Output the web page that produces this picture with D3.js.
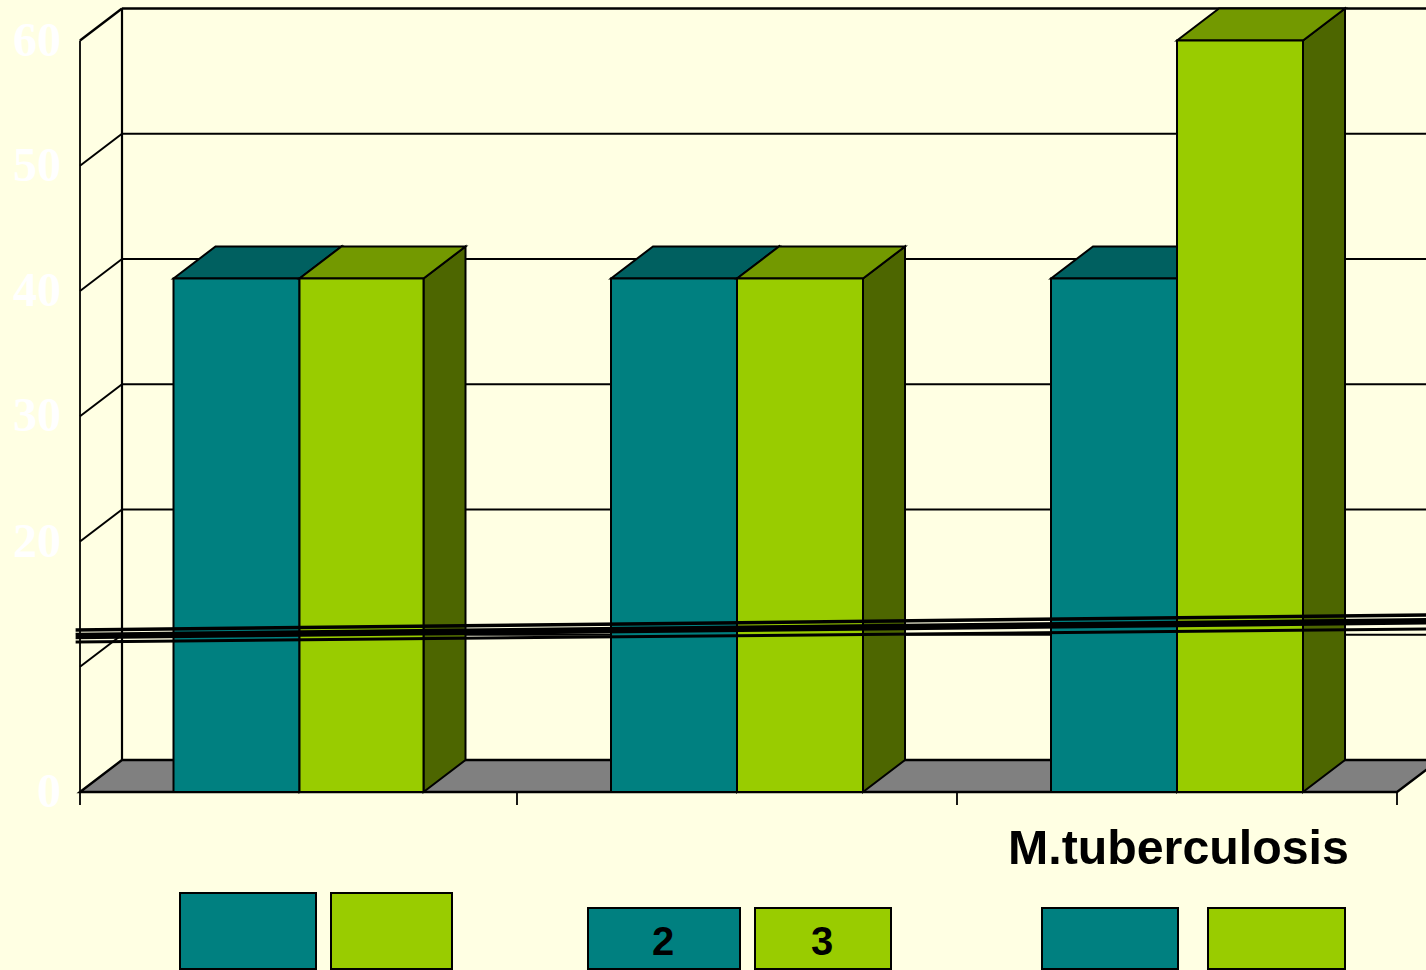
<!DOCTYPE html>
<html><head><meta charset="utf-8">
<script src="https://cdn.jsdelivr.net/npm/d3@7/dist/d3.min.js"></script>
<style>html,body{margin:0;padding:0;background:#FFFFE3;overflow:hidden}svg{display:block}</style>
</head><body><div id="chart"></div>
<script>
const categories = ["A","B","C"];
const seriesNames = ["2","3"];
const seriesA = [41, 41, 41];
const seriesB = [41, 41, 60];
const yTicks = [0,10,20,30,40,50,60];
const yTickLabels = ["0","","20","30","40","50","60"];
const xTitle = "M.tuberculosis";
const legendLabels = [["",""],["2","3"],["",""]];
// nearly horizontal overlay rules: [category position, value]
const overlayLines = [
  {w:3.5, pts:[[-0.01,12.93],[3.07,14.13]]},
  {w:6.5, pts:[[-0.01,12.45],[3.07,13.63]]},
  {w:3, pts:[[-0.01,11.98],[3.07,13.01]]}
];
const colors = {bg:"#FFFFE3", teal:"#008080", tealTop:"#006060", tealSide:"#004D4D",
  lime:"#99CC00", limeTop:"#739900", limeSide:"#4D6600", floor:"#808080", tick:"#FFFFFF"};

const W=1426,H=970;
const depth={x:42,y:-32};
const y=d3.scaleLinear().domain([0,60]).range([792,40.5]);
const bandEdges=[80,517,957,1397];
const x0=d3.scaleOrdinal().domain(categories).range([79.5,517,957]);
const barW=126;
const limeW=[124,126,126];
const groupOffset=94;
const xLine=d3.scaleLinear().domain([0,3]).range([80,1397]);

const svg=d3.select("#chart").append("svg").attr("width",W).attr("height",H).attr("viewBox",`0 0 ${W} ${H}`);
svg.append("rect").attr("width",W).attr("height",H).attr("fill",colors.bg);

const xL=bandEdges[0],xR=bandEdges[3];
const poly=(pts,fill,sw=2)=>svg.append("polygon").attr("points",pts.map(p=>p.join(",")).join(" "))
  .attr("fill",fill).attr("stroke","#000").attr("stroke-width",sw).attr("stroke-linejoin","miter");
const line=(a,b,sw=2)=>svg.append("line").attr("x1",a[0]).attr("y1",a[1]).attr("x2",b[0]).attr("y2",b[1])
  .attr("stroke","#000").attr("stroke-width",sw);

// floor
poly([[xL,y(0)],[xL+depth.x,y(0)+depth.y],[xR+depth.x,y(0)+depth.y],[xR,y(0)]],colors.floor,2.4);
// walls + gridlines
line([xL,y(0)],[xL,y(60)],1.8);
line([xL+depth.x,y(0)+depth.y],[xL+depth.x,y(60)+depth.y],2.2);
yTicks.forEach(t=>{
  if(t>0){
    line([xL,y(t)],[xL+depth.x,y(t)+depth.y],t===60?2.4:2);
    line([xL+depth.x,y(t)+depth.y],[W+10,y(t)+depth.y],t===60?2.4:2);
  }
});
// axis baseline and ticks
line([xL,y(0)],[xR,y(0)],2.2);
bandEdges.forEach(px=>line([px,y(0)],[px,y(0)+13],1.8));

// y labels
svg.append("g").selectAll("text").data(yTicks).join("text")
  .attr("x",61).attr("y",d=>y(d)+15)
  .attr("text-anchor","end")
  .attr("font-family","Liberation Serif").attr("font-weight","bold").attr("font-size",48)
  .attr("fill",colors.tick)
  .text((d,i)=>yTickLabels[i]);

// bars
function drawBar(bx,w,v,face,top,side){
  const yt=y(v), yb=y(0);
  poly([[bx+w,yb],[bx+w+depth.x,yb+depth.y],[bx+w+depth.x,yt+depth.y],[bx+w,yt]],side);
  poly([[bx,yt],[bx+depth.x,yt+depth.y],[bx+w+depth.x,yt+depth.y],[bx+w,yt]],top);
  svg.append("rect").attr("x",bx).attr("y",yt).attr("width",w).attr("height",yb-yt)
    .attr("fill",face).attr("stroke","#000").attr("stroke-width",2);
}
categories.forEach((c,i)=>{
  const gx=x0(c)+groupOffset;
  drawBar(gx,barW,seriesA[i],colors.teal,colors.tealTop,colors.tealSide);
  drawBar(gx+barW,limeW[i],seriesB[i],colors.lime,colors.limeTop,colors.limeSide);
});

// overlay rules
const ln=d3.line().x(d=>xLine(d[0])).y(d=>y(d[1]));
svg.append("g").selectAll("path").data(overlayLines).join("path")
  .attr("d",d=>ln(d.pts)).attr("fill","none").attr("stroke","#000").attr("stroke-width",d=>d.w);

// x title
svg.append("text").attr("x",1008).attr("y",864)
  .attr("font-family","Liberation Sans").attr("font-weight","bold").attr("font-size",48.3)
  .attr("fill","#000").text(xTitle);

// label boxes under the chart
const boxLayout=[
  {y:893,boxes:[[180,316],[331,452]]},
  {y:908,boxes:[[588,740],[755,891]]},
  {y:908,boxes:[[1042,1178],[1208,1345]]}
];
legendLabels.forEach((labels,gi)=>{
  const L=boxLayout[gi];
  L.boxes.forEach((b,bi)=>{
    svg.append("rect").attr("x",b[0]).attr("y",L.y).attr("width",b[1]-b[0]).attr("height",969-L.y)
      .attr("fill",bi===0?colors.teal:colors.lime).attr("stroke","#000").attr("stroke-width",2);
    if(labels[bi]) svg.append("text").attr("x",bi===0?663:822).attr("y",955)
      .attr("text-anchor","middle").attr("font-family","Liberation Sans").attr("font-weight","bold")
      .attr("font-size",40).attr("fill","#000").text(labels[bi]);
  });
});
</script></body></html>
